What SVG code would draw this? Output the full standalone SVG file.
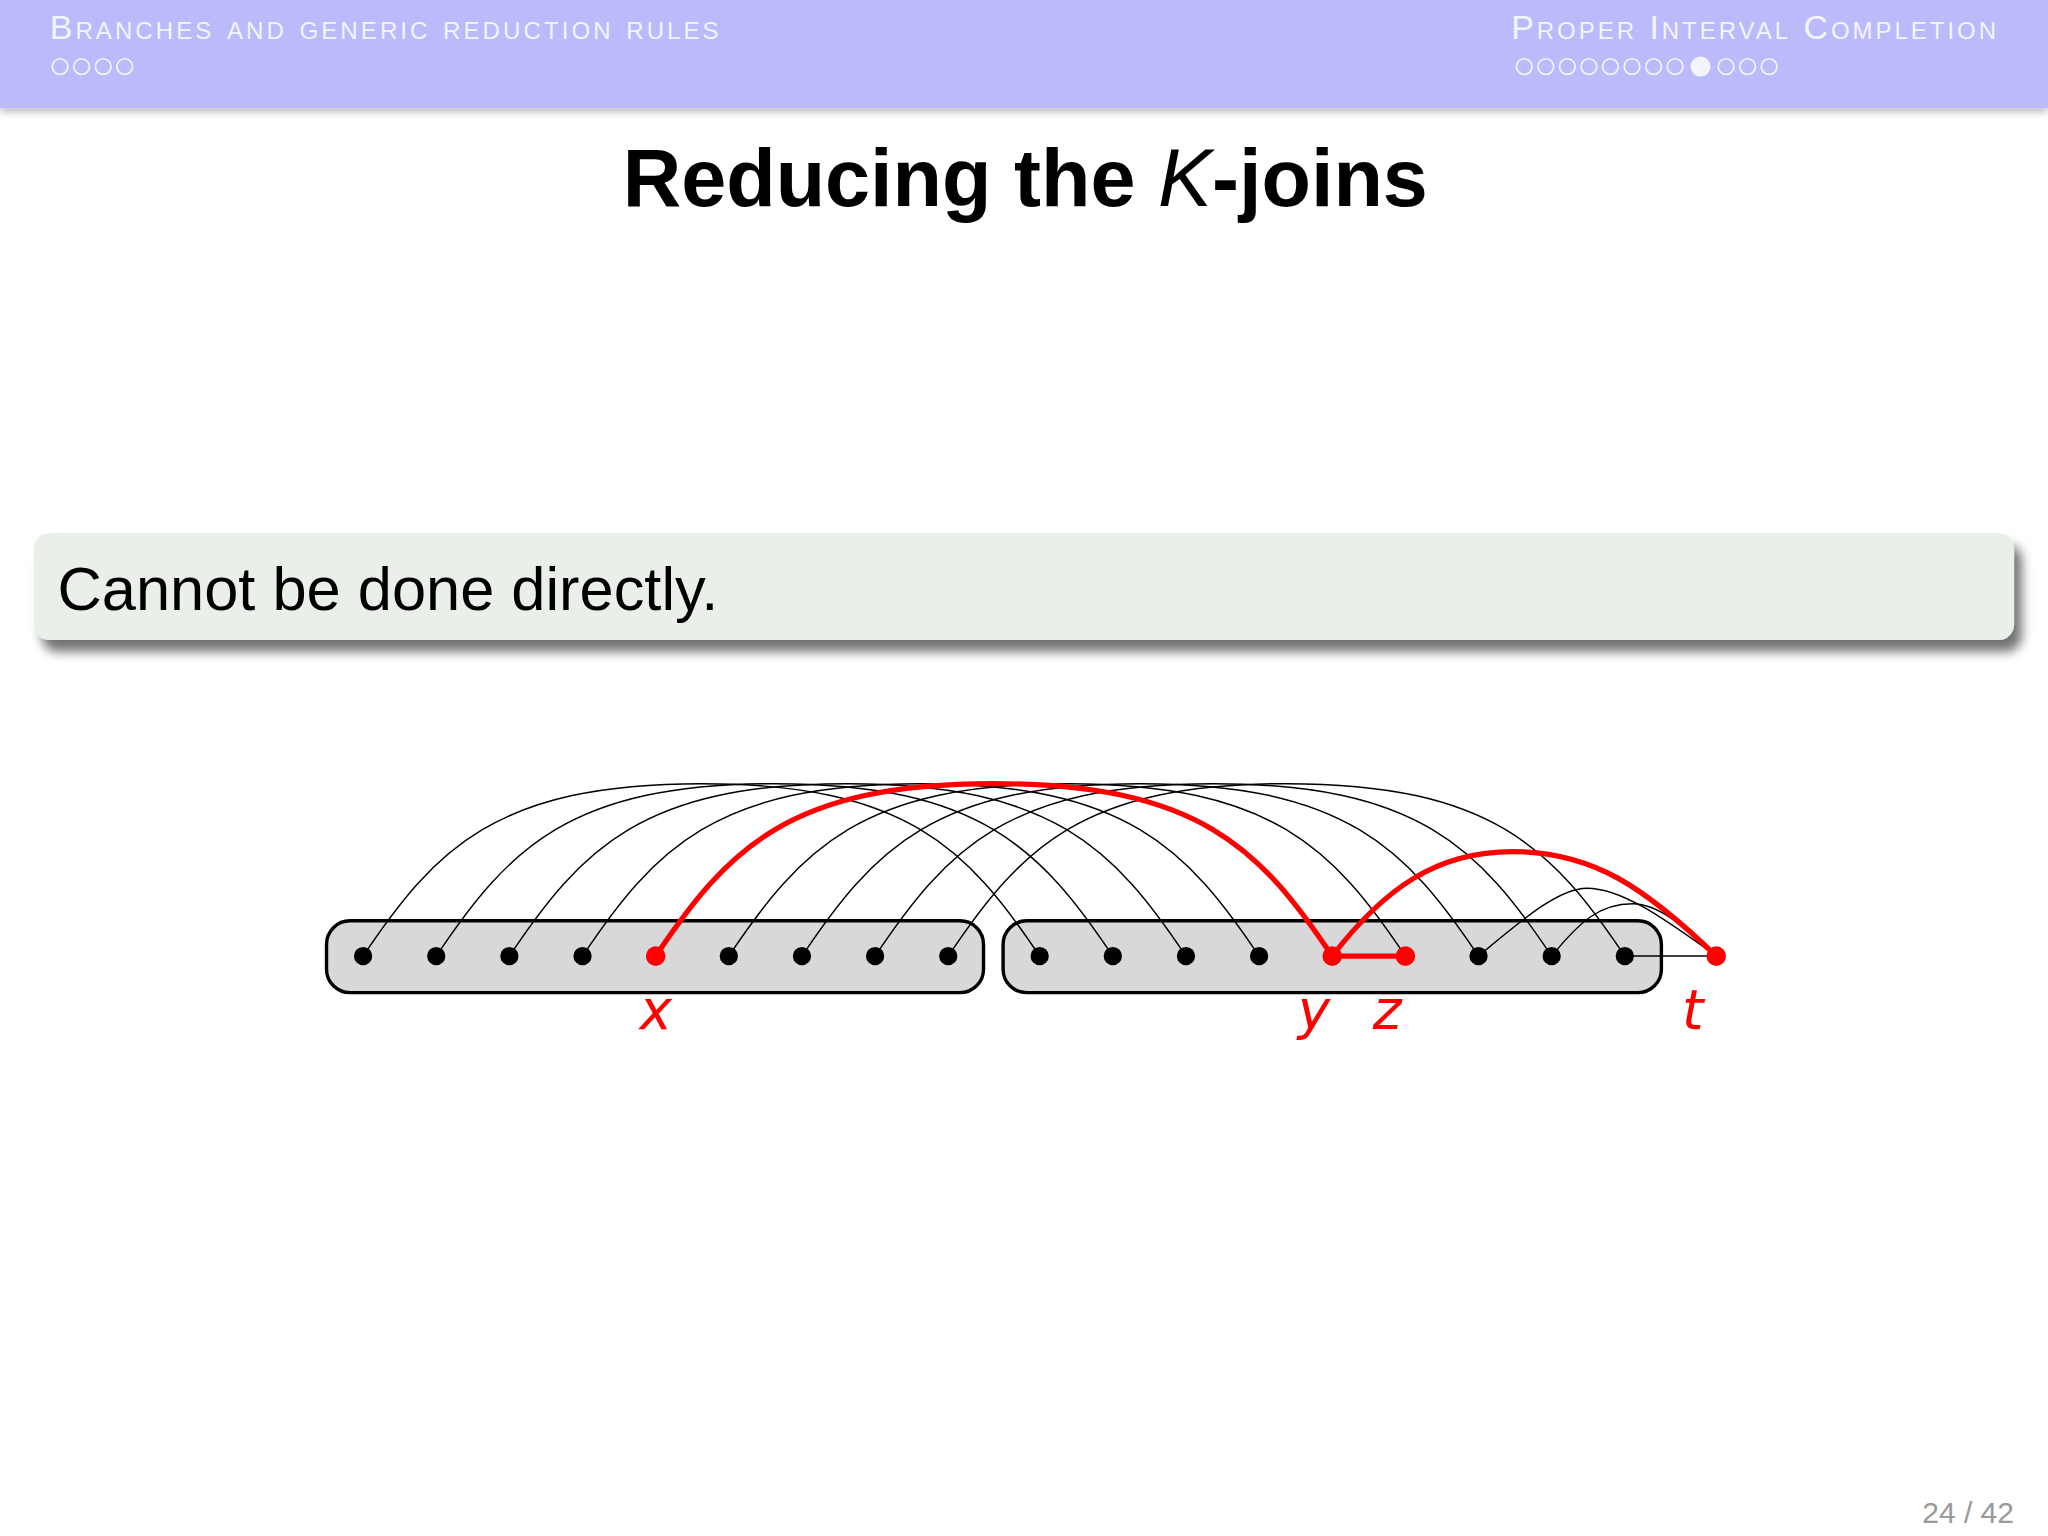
<svg xmlns="http://www.w3.org/2000/svg" width="2048" height="1536" viewBox="0 0 2048 1536">
<defs>
<filter id="sh" x="-5%" y="-30%" width="110%" height="180%"><feDropShadow dx="6" dy="9" stdDeviation="4" flood-color="#000" flood-opacity="0.55"/></filter>
<filter id="hs" x="0" y="0" width="100%" height="130%"><feDropShadow dx="0" dy="3" stdDeviation="3" flood-color="#000" flood-opacity="0.25"/></filter>
<style>
.hd{font-family:"Liberation Sans",Arial,sans-serif;font-size:26px;fill:#f4f4ff;font-variant:small-caps;letter-spacing:1.8px}
.dot{fill:none;stroke:#f4f4ff;stroke-width:1.3}
.e{fill:none;stroke:#000;stroke-width:1.1}
.r{fill:none;stroke:#f00;stroke-width:4}
.box{fill:#d8d8da;stroke:#000;stroke-width:2.6}
.n{fill:#000}
.rn{fill:#f00}
.lb{font-family:"DejaVu Sans","Liberation Sans",sans-serif;font-style:italic;font-size:42px;fill:#f00;text-anchor:middle}
</style>
</defs>
<rect width="2048" height="1536" fill="#fff"/>
<g transform="scale(1.30612)">
<g id="header">
<rect x="0" y="0" width="1568" height="83" fill="#bbbbfc" filter="url(#hs)"/>
<text class="hd" x="38" y="30" textLength="514" lengthAdjust="spacing">Branches and generic reduction rules</text>
<text class="hd" x="1157" y="30" textLength="373" lengthAdjust="spacing">Proper Interval Completion</text>
<g class="dot">
<circle cx="46" cy="51" r="6"/><circle cx="62.5" cy="51" r="6"/><circle cx="79" cy="51" r="6"/><circle cx="95.5" cy="51" r="6"/>
<circle cx="1167" cy="51" r="6"/><circle cx="1183.5" cy="51" r="6"/><circle cx="1200" cy="51" r="6"/><circle cx="1216.5" cy="51" r="6"/><circle cx="1233" cy="51" r="6"/><circle cx="1249.5" cy="51" r="6"/><circle cx="1266" cy="51" r="6"/><circle cx="1282.5" cy="51" r="6"/><circle cx="1302" cy="51" r="7" fill="#f4f4ff"/><circle cx="1321.5" cy="51" r="6"/><circle cx="1338" cy="51" r="6"/><circle cx="1354.5" cy="51" r="6"/>
</g>
</g>
<text x="785" y="158" text-anchor="middle" font-family="Liberation Sans,Arial,sans-serif" font-size="62" font-weight="bold">Reducing the <tspan font-style="italic" font-weight="normal">K</tspan>-joins</text>
<g id="block">
<rect x="26" y="408" width="1516" height="82" rx="12" fill="#e9f0e9" filter="url(#sh)"/>
<text x="44" y="467" font-family="Liberation Sans,Arial,sans-serif" font-size="47">Cannot be done directly.</text>
</g>
<g id="boxL"><rect class="box" x="250" y="705" width="503" height="55" rx="18"/></g>
<g id="boxR"><rect class="box" x="768" y="705" width="504" height="55" rx="18"/></g>
<g id="connectors">
<path class="e" d="M278,732 C333,650 380,600 537,600 C694,600 741,650 796,732"/>
<path class="e" d="M334,732 C389,650 436,600 593,600 C750,600 797,650 852,732"/>
<path class="e" d="M390,732 C445,650 492,600 649,600 C806,600 853,650 908,732"/>
<path class="e" d="M446,732 C501,650 548,600 705,600 C862,600 909,650 964,732"/>
<path class="e" d="M558,732 C613,650 660,600 817,600 C974,600 1021,650 1076,732"/>
<path class="e" d="M614,732 C669,650 716,600 873,600 C1030,600 1077,650 1132,732"/>
<path class="e" d="M670,732 C725,650 772,600 929,600 C1086,600 1133,650 1188,732"/>
<path class="e" d="M726,732 C781,650 828,600 985,600 C1142,600 1189,650 1244,732"/>
<path class="e" d="M1132,732 C1170,700 1195,680 1215,680 C1240,680 1270,700 1314,732"/>
<path class="e" d="M1188,732 C1210,705 1225,692 1250,692 C1270,692 1290,710 1314,732"/>
<path class="e" d="M1244,732 L1314,732"/>
<path class="r" d="M502,732 C557,650 604,600 761,600 C918,600 965,650 1020,732"/>
<path class="r" d="M1020,732 C1060,680 1100,652 1158,652 C1220,652 1260,680 1314,732"/>
<path class="r" d="M1020,732 L1076,732"/>
</g>
<g id="nodes">
<circle class="n" cx="278" cy="732" r="7"/><circle class="n" cx="334" cy="732" r="7"/><circle class="n" cx="390" cy="732" r="7"/><circle class="n" cx="446" cy="732" r="7"/><circle class="rn" cx="502" cy="732" r="7.5"/><circle class="n" cx="558" cy="732" r="7"/><circle class="n" cx="614" cy="732" r="7"/><circle class="n" cx="670" cy="732" r="7"/><circle class="n" cx="726" cy="732" r="7"/>
<circle class="n" cx="796" cy="732" r="7"/><circle class="n" cx="852" cy="732" r="7"/><circle class="n" cx="908" cy="732" r="7"/><circle class="n" cx="964" cy="732" r="7"/><circle class="rn" cx="1020" cy="732" r="7.5"/><circle class="rn" cx="1076" cy="732" r="7.5"/><circle class="n" cx="1132" cy="732" r="7"/><circle class="n" cx="1188" cy="732" r="7"/><circle class="n" cx="1244" cy="732" r="7"/><circle class="rn" cx="1314" cy="732" r="7.5"/>
</g>
<g id="labels">
<text class="lb" x="502" y="788">x</text>
<text class="lb" x="1006" y="788">y</text>
<text class="lb" x="1062" y="788">z</text>
<text class="lb" x="1296" y="788">t</text>
</g>
<text x="1542" y="1166" text-anchor="end" font-family="Liberation Sans,Arial,sans-serif" font-size="23" fill="#999">24 / 42</text>
</g>
</svg>
